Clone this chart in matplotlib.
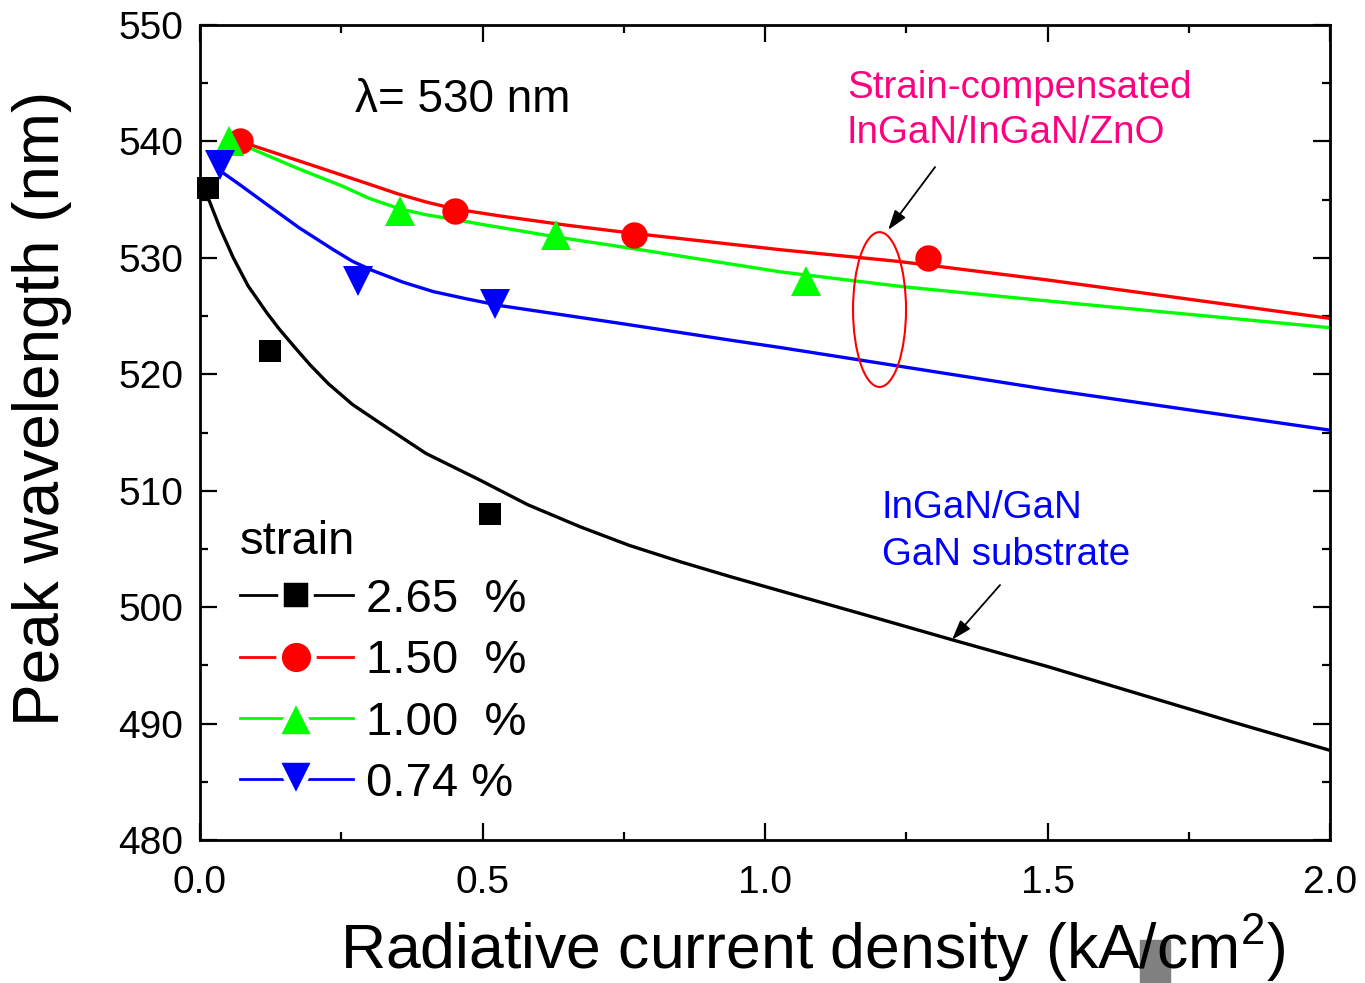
import matplotlib
matplotlib.use("Agg")
import matplotlib.pyplot as plt
from matplotlib.lines import Line2D
from matplotlib.patches import Ellipse, Rectangle
from matplotlib.ticker import MultipleLocator, FormatStrFormatter

plt.rcParams['font.family'] = ['Liberation Sans', 'DejaVu Sans']
plt.rcParams['mathtext.default'] = 'regular'

# measured points
sq_x = [0.014, 0.124, 0.513]
sq_y = [536, 522, 508]
ci_x = [0.071, 0.451, 0.768, 1.288]
ci_y = [540, 534, 532, 530]
tu_x = [0.051, 0.354, 0.630, 1.073]
tu_y = [540, 534, 532, 528]
td_x = [0.035, 0.280, 0.522]
td_y = [538, 528, 526]

# fitted curves
black_fx = [0.014, 0.035, 0.059, 0.085, 0.118, 0.140, 0.168, 0.195, 0.227, 0.27, 0.319,
            0.40, 0.496, 0.58, 0.673, 0.76, 0.85, 0.94, 1.027, 1.18, 1.331, 1.5, 1.658,
            1.83, 2.0]
black_fy = [535.2, 532.6, 530.0, 527.6, 525.3, 523.9, 522.3, 520.8, 519.2, 517.4, 515.8,
            513.2, 510.9, 508.8, 506.9, 505.3, 503.9, 502.6, 501.4, 499.3, 497.2, 494.9, 492.6,
            490.1, 487.7]
red_fx = [0.071, 0.177, 0.295, 0.35, 0.40, 0.451, 0.531, 0.65, 0.768, 1.027, 1.235, 1.5, 2.0]
red_fy = [540.0, 538.3, 536.4, 535.5, 534.8, 534.2, 533.6, 532.8, 532.1, 530.7, 529.7, 528.1, 524.8]
green_fx = [0.051, 0.177, 0.25, 0.30, 0.354, 0.40, 0.45, 0.496, 0.63, 0.779, 1.027, 1.248, 1.5, 2.0]
green_fy = [540.2, 537.6, 536.2, 535.1, 534.2, 533.7, 533.3, 532.9, 531.8, 530.7, 528.8, 527.5, 526.3, 524.0]
blue_fx = [0.032, 0.07, 0.118, 0.175, 0.236, 0.27, 0.306, 0.36, 0.413, 0.47, 0.531, 0.74,
           0.943, 1.027, 1.5, 2.0]
blue_fy = [537.6, 536.3, 534.6, 532.6, 530.7, 529.7, 528.9, 527.9, 527.1, 526.5, 525.9, 524.4,
           522.9, 522.3, 518.7, 515.2]

labels = ['2.65  %', '1.50  %', '1.00  %', '0.74 %']
colors = ['black', '#ff0000', '#00ff00', '#0000ff']
markers = ['s', 'o', '^', 'v']
msizes = [16, 19, 21, 21]

fig = plt.figure(figsize=(13.65, 9.83), dpi=100)
ax = fig.add_axes([200/1365, 1-840/983, 1130/1365, 815/983])

lw = 2.4
ax.plot(black_fx, black_fy, color=colors[0], lw=lw, zorder=2)
ax.plot(red_fx, red_fy, color=colors[1], lw=lw, zorder=2)
ax.plot(green_fx, green_fy, color=colors[2], lw=lw, zorder=2)
ax.plot(blue_fx, blue_fy, color=colors[3], lw=lw, zorder=2)

pts = [(sq_x, sq_y), (ci_x, ci_y), (tu_x, tu_y), (td_x, td_y)]
for (px, py), c, m, ms in zip(pts, colors, markers, msizes):
    ax.plot(px, py, linestyle='none', marker=m, color=c, markersize=ms,
            markeredgewidth=0, zorder=3, clip_on=False)

ax.set_xlim(0, 2.0)
ax.set_ylim(480, 550)
ax.xaxis.set_major_locator(MultipleLocator(0.5))
ax.xaxis.set_minor_locator(MultipleLocator(0.25))
ax.yaxis.set_major_locator(MultipleLocator(10))
ax.yaxis.set_minor_locator(MultipleLocator(5))
ax.xaxis.set_major_formatter(FormatStrFormatter('%.1f'))
ax.tick_params(which='both', direction='in', top=True, right=True, labelsize=28)
ax.tick_params(which='major', length=12, width=1.6, pad=12)
ax.tick_params(which='minor', length=6, width=1.6)
ax.tick_params(axis='x', pad=18)
for s in ax.spines.values():
    s.set_linewidth(2)

fig.text(813/1365, 1-948/983, 'Radiative current density (kA/cm$^2$)',
         fontsize=45, ha='center', va='center')
fig.text(42/1365, 1-408/983, 'Peak wavelength (nm)', fontsize=46,
         rotation=90, ha='center', va='center')

ax.text(0.274, 543.6, 'λ= 530 nm', fontsize=33, ha='left', va='center')
ax.text(1.145, 542.65, 'Strain-compensated\nInGaN/InGaN/ZnO', fontsize=27.7,
        color='#ff0080', ha='left', va='center', linespacing=1.35)
ax.text(1.207, 506.5, 'InGaN/GaN\nGaN substrate', fontsize=27.7,
        color='#0000ff', ha='left', va='center', linespacing=1.4)

ax.add_patch(Ellipse((1.2027, 525.56), 0.0938, 13.3, fill=False,
                     edgecolor='#ff0000', lw=1.5, zorder=4))
ax.annotate('', xy=(1.218, 532.4), xytext=(1.301, 537.8),
            arrowprops=dict(arrowstyle='-|>,head_length=0.6,head_width=0.2', color='black',
                            lw=1.3, mutation_scale=20, shrinkA=0, shrinkB=0))
ax.annotate('', xy=(1.331, 497.2), xytext=(1.416, 501.9),
            arrowprops=dict(arrowstyle='-|>,head_length=0.6,head_width=0.2', color='black',
                            lw=1.3, mutation_scale=20, shrinkA=0, shrinkB=0))

# legend handles: small white gap between the line and the marker
handles = [Line2D([], [], color=c, marker=m, markersize=ms + 6, lw=2.0,
                  markeredgewidth=4, markeredgecolor='white', markerfacecolor=c)
           for c, m, ms in zip(colors, markers, msizes)]
leg = ax.legend(handles, labels, title='strain', loc='upper left',
                bbox_to_anchor=(0.035, 0.393), frameon=False, fontsize=34,
                title_fontsize=34, handlelength=2.4, handletextpad=0.28,
                labelspacing=0.37, borderpad=0, borderaxespad=0, numpoints=1,
                alignment='left')
leg._legend_box.sep = 10

fig.patches.append(Rectangle((1140/1365, 0), 30/1365, 43/983,
                             transform=fig.transFigure, color='#808080', zorder=0))

fig.savefig('out.png', dpi=100)
